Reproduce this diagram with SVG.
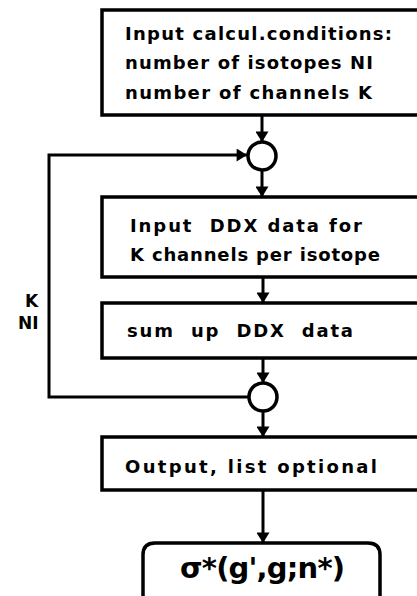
<svg xmlns="http://www.w3.org/2000/svg" width="417" height="596" viewBox="0 0 417 596">
<style>
.box{fill:#fff;stroke:#000;stroke-width:3.5}
.ln{fill:none;stroke:#000;stroke-width:3}
.t{font-family:"DejaVu Sans",sans-serif;font-size:18px;font-weight:bold;fill:#000;white-space:pre}
.big{font-size:29px}
.sm{font-size:17px}
</style>
<defs>
<marker id="ah" viewBox="0 0 12 15" refX="12" refY="7.5" markerWidth="16" markerHeight="13" markerUnits="userSpaceOnUse" orient="auto">
<path d="M0,0 L12,7.5 L0,15 Z" fill="#000"/>
</marker>
</defs>
<rect width="417" height="596" fill="#fff"/>
<g id="connectors">
<line class="ln" x1="262" y1="115" x2="262" y2="142" marker-end="url(#ah)"/>
<line class="ln" x1="262" y1="170" x2="262" y2="197" marker-end="url(#ah)"/>
<line class="ln" x1="263" y1="277" x2="263" y2="303" marker-end="url(#ah)"/>
<line class="ln" x1="263" y1="358" x2="263" y2="383" marker-end="url(#ah)"/>
<line class="ln" x1="263" y1="411" x2="263" y2="437" marker-end="url(#ah)"/>
<line class="ln" x1="263" y1="490" x2="263" y2="543" marker-end="url(#ah)"/>
<polyline class="ln" points="249,397 49,397 49,155 247,155" marker-end="url(#ah)"/>
</g>
<g id="n1">
<rect class="box" x="102" y="10" width="330" height="105"/>
<text class="t" x="125" y="40" textLength="267" lengthAdjust="spacing">Input calcul.conditions:</text>
<text class="t" x="125" y="69" textLength="248" lengthAdjust="spacing">number of isotopes NI</text>
<text class="t" x="125" y="99" textLength="247" lengthAdjust="spacing">number of channels K</text>
</g>
<g id="c1"><circle cx="262" cy="156" r="14" fill="#fff" stroke="#000" stroke-width="3.5"/></g>
<g id="n2">
<rect class="box" x="102" y="197" width="330" height="80"/>
<text class="t" x="130" y="232" textLength="232" lengthAdjust="spacing" xml:space="preserve">Input  DDX data for</text>
<text class="t" x="130" y="261" textLength="250" lengthAdjust="spacing">K channels per isotope</text>
</g>
<g id="n3">
<rect class="box" x="102" y="303" width="330" height="55"/>
<text class="t" x="127" y="337" textLength="226" lengthAdjust="spacing" xml:space="preserve">sum  up  DDX  data</text>
</g>
<g id="c2"><circle cx="263" cy="397" r="14" fill="#fff" stroke="#000" stroke-width="3.5"/></g>
<g id="n4">
<rect class="box" x="102" y="437" width="330" height="53"/>
<text class="t" x="125" y="473" textLength="252" lengthAdjust="spacing">Output, list optional</text>
</g>
<g id="n5">
<path class="box" d="M143,600 L143,555 Q143,543 155,543 L368,543 Q380,543 380,555 L380,600"/>
<text class="t big" x="180" y="578" textLength="165" lengthAdjust="spacing">σ*(g',g;n*)</text>
</g>
<g id="lbl">
<text class="t sm" x="25" y="307">K</text>
<text class="t sm" x="18" y="329">NI</text>
</g>
</svg>
